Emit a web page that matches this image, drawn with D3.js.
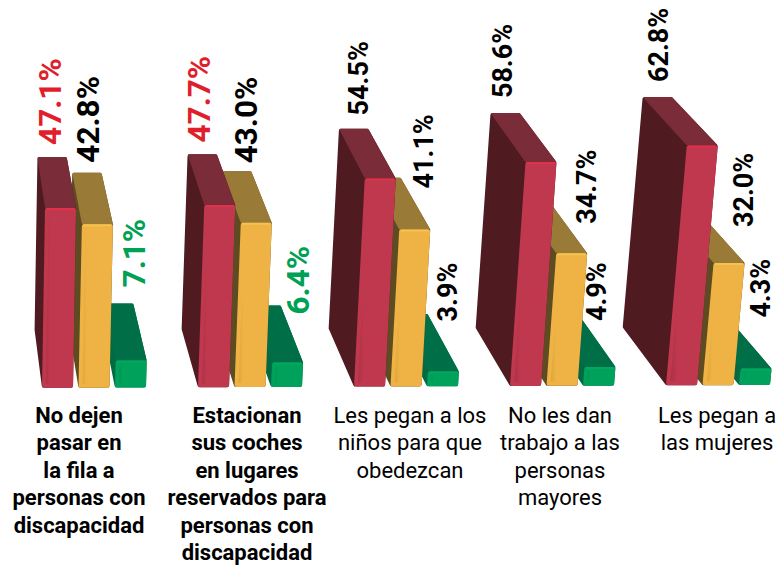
<!DOCTYPE html>
<html><head><meta charset="utf-8">
<script src="https://cdn.jsdelivr.net/npm/d3@7"></script>
<style>html,body{margin:0;background:#fff}svg{display:block}</style></head>
<body><div id="c"></div>
<script>
// --- data ---
const categories = [
  ["No dejen","pasar en","la fila a","personas con","discapacidad"],
  ["Estacionan","sus coches","en lugares","reservados para","personas con","discapacidad"],
  ["Les pegan a los","niños para que","obedezcan"],
  ["No les dan","trabajo a las","personas","mayores"],
  ["Les pegan a","las mujeres"]
];
const boldCategory = [true,true,false,false,false];
const seriesNames = ["rojo","amarillo","verde"];
const rojo     = [47.1,47.7,54.5,58.6,62.8];
const amarillo = [42.8,43.0,41.1,34.7,32.0];
const verde    = [7.1,6.4,3.9,4.9,4.3];
const seriesValues = [rojo,amarillo,verde];

// --- styling / layout ---
const W=778,H=568;
const palette = {
  rojo:{front:"#c0384e",edge:"#a52f42",hi:"#e2304c",top:"#7b2c39",side:"#4f1b21",label:"#e01f2d"},
  amarillo:{front:"#eeb344",edge:"#d59f38",hi:"#f6c24f",top:"#9a7a37",side:"#5d4b22",label:"#000"},
  verde:{front:"#00a25b",edge:"#008f50",hi:"#00a860",top:"#006f47",side:"#006a42",label:"#00a055"}
};
const labelNudge = [
  [[19,-63],[21,-61.5],[30,-73]],
  [[12,-62.5],[22.5,-59.5],[38,-48]],
  [[14,-63],[43,-41],[30,-50]],
  [[1.5,-64],[50,-29.5],[23.5,-46]],
  [[1.5,-63.5],[51,-36],[31.5,-51]]
];
const labelSize = [[31.5,31.5,31.5],[31.5,31.5,31.5],[27,27,27],[27,27,27],[27,27,27]];
const labelColored = [true,false,false,false,false];
const categoryShift = [37,49,56,50,51];

const xGroup = d3.scaleBand().domain(d3.range(5)).range([42,822]).padding(0);
const xSeries = d3.scaleBand().domain(seriesNames).range([0,104]).paddingInner(0.15);
const barH = d3.scaleLinear().domain([0,100]).range([0,382]);
const baseY = x => 388-0.004*x;
const lean = x => 0.012+0.000112*x;
const shift = x => 5+0.0575*x;
const DEPTH=58, BACK=0.96;
const frontPt=(x,h,xb)=>[x+lean(xb)*h, baseY(xb)-h];
const backPt=(x,h,xb)=>[x-shift(x)+lean(xb)*h*BACK, baseY(xb)-DEPTH-h*BACK];

const svg=d3.select("#c").append("svg").attr("width",W).attr("height",H);
const defs=svg.append("defs");
seriesNames.forEach(n=>{
  const g=defs.append("linearGradient").attr("id","g-"+n);
  g.append("stop").attr("offset",0).attr("stop-color",palette[n].edge);
  g.append("stop").attr("offset",0.2).attr("stop-color",palette[n].front);
  g.append("stop").attr("offset",1).attr("stop-color",palette[n].front);
});
const line=d3.line();
// inward miter offset of a polygon; stroking it back with a round join gives soft corners
const inset=(pts,d)=>{
  const n=pts.length, sign=d3.polygonArea(pts)>0?-1:1;
  const off=pts.map((p,i)=>{
    const q=pts[(i+1)%n],dx=q[0]-p[0],dy=q[1]-p[1],l=Math.hypot(dx,dy)||1;
    const nx=-dy/l*sign,ny=dx/l*sign;
    return {x:p[0]+nx*d,y:p[1]+ny*d,dx,dy};
  });
  return off.map((a,i)=>{
    const b=off[(i+n-1)%n],den=b.dx*a.dy-b.dy*a.dx;
    if(Math.abs(den)<1e-6) return [a.x,a.y];
    const t=((a.x-b.x)*a.dy-(a.y-b.y)*a.dx)/den;
    return [b.x+b.dx*t,b.y+b.dy*t];
  });
};
const poly=(g,pts,fill,r=1,stroke=fill)=>g.append("path").attr("d",line(inset(pts,r))+"Z")
  .attr("fill",fill).attr("stroke",stroke).attr("stroke-width",r*2).attr("stroke-linejoin","round");

categories.forEach((cat,i)=>{
  const g=svg.append("g");
  // right-most series first, so nearer left bars overlap
  [2,1,0].forEach(s=>{
    const name=seriesNames[s],c=palette[name],v=seriesValues[s][i];
    const xl=xGroup(i)+xSeries(name), xr=xl+xSeries.bandwidth(), h=barH(v);
    const fl0=frontPt(xl,0,xl),fr0=frontPt(xr,0,xl),fl1=frontPt(xl,h,xl),fr1=frontPt(xr,h,xl);
    const bl0=backPt(xl,0,xl),bl1=backPt(xl,h,xl),br1=backPt(xr,h,xl);
    // silhouette under the faces closes the seams between them
    poly(g,[bl1,br1,fr1,fr0,fl0,bl0],c.side,2);
    poly(g,[fl1,bl1,br1,fr1],c.top,1);
    const face=[fl1,fr1,fr0,fl0];
    poly(g,face,`url(#g-${name})`,2,c.front);
    const fi=inset(face,2);
    g.append("path").attr("d",line([[fi[0][0],fi[0][1]-1],[fi[1][0],fi[1][1]-1]]))
      .attr("stroke",c.hi).attr("stroke-width",2).attr("stroke-linecap","round").attr("fill","none");
  });
});

// value labels
categories.forEach((cat,i)=>{
  seriesNames.forEach((name,s)=>{
    const v=seriesValues[s][i];
    const xl=xGroup(i)+xSeries(name);
    const [nx,ny]=labelNudge[i][s];
    const px=xl+nx, py=baseY(xl)-barH(v)+ny;
    const fill=(labelColored[i]||(i===1&&s!==1))?palette[name].label:"#000";
    svg.append("text").attr("transform",`translate(${px},${py}) rotate(-90)`)
      .attr("font-family","Roboto").attr("font-weight",700)
      .attr("font-size",labelSize[i][s]).attr("fill",name==="amarillo"?"#000":fill)
      .text(v.toFixed(1)+"%");
  });
});

// category labels
const yText=d3.scaleLinear().domain([0,5]).range([423,560]);
categories.forEach((cat,i)=>{
  const t=svg.append("text").attr("text-anchor","middle")
    .attr("font-family","Roboto").attr("font-size",22)
    .attr("font-weight",boldCategory[i]?700:400).attr("fill","#000");
  cat.forEach((ln,j)=>t.append("tspan").attr("x",xGroup(i)+categoryShift[i]).attr("y",yText(j)).text(ln));
});
</script></body></html>
